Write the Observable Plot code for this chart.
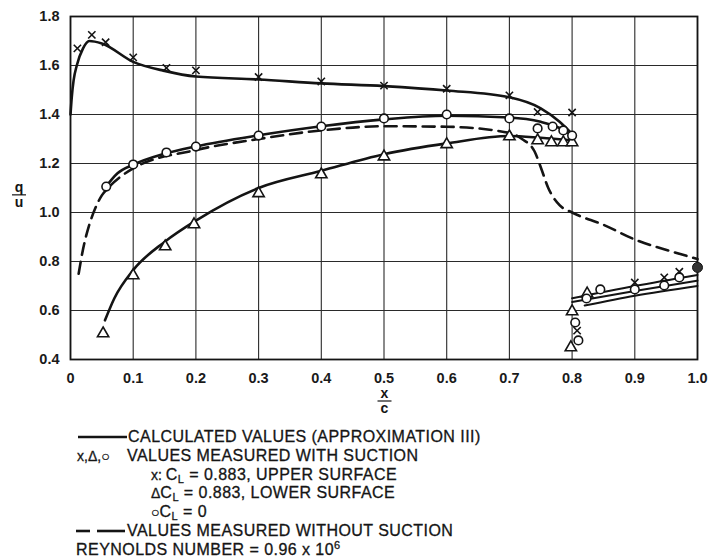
<!DOCTYPE html>
<html>
<head>
<meta charset="utf-8">
<script src="https://cdn.jsdelivr.net/npm/d3@7"></script>
<script src="https://cdn.jsdelivr.net/npm/@observablehq/plot@0.6"></script>
<style>
  body { margin: 0; background: #fff; }
  #wrap { width: 709px; }
  #legend { position: relative; height: 137px; font-family: "Liberation Sans", Arial, sans-serif; font-size: 16px; letter-spacing: 0.45px; color: #151515; -webkit-text-stroke: 0.3px #151515; }
  .row { position: absolute; display: flex; align-items: center; height: 18px; white-space: nowrap; }
  .sym { font-size: 14px; letter-spacing: 0; }
  sub { font-size: 11px; vertical-align: -3px; line-height: 0; }
  sup { font-size: 11px; vertical-align: 6px; line-height: 0; }
  svg.chart text { -webkit-text-stroke: 0.2px #1a1a1a; }
</style>
</head>
<body>
<div id="wrap">
  <div id="chart"></div>
  <div id="legend"></div>
</div>
<script>
// ---- axis ticks ----
const xTicks = [0, 0.1, 0.2, 0.3, 0.4, 0.5, 0.6, 0.7, 0.8, 0.9, 1.0];
const xTickLabels = ["0", "0.1", "0.2", "0.3", "0.4", "0.5", "0.6", "0.7", "0.8", "0.9", "1.0"];
const yTicks = [0.4, 0.6, 0.8, 1.0, 1.2, 1.4, 1.6, 1.8];
const yTickLabels = ["0.4", "0.6", "0.8", "1.0", "1.2", "1.4", "1.6", "1.8"];

// ---- calculated values (approximation III), solid lines: [x/c, q/u] ----
const calcUpper = [[0, 1.40], [0.002, 1.47], [0.005, 1.54], [0.01, 1.60], [0.02, 1.67], [0.03, 1.70],
  [0.05, 1.69], [0.1, 1.615], [0.15, 1.578], [0.2, 1.555], [0.3, 1.543], [0.4, 1.527], [0.5, 1.516],
  [0.6, 1.498], [0.7, 1.47], [0.75, 1.425], [0.78, 1.37], [0.8, 1.32]];
const calcZero = [[0.055, 1.10], [0.075, 1.16], [0.1, 1.195], [0.15, 1.24], [0.2, 1.27], [0.3, 1.315],
  [0.4, 1.352], [0.5, 1.38], [0.6, 1.395], [0.7, 1.388], [0.75, 1.37], [0.78, 1.345], [0.8, 1.315]];
const calcLower = [[0.055, 0.56], [0.07, 0.65], [0.1, 0.765], [0.15, 0.88], [0.2, 0.967], [0.3, 1.10],
  [0.4, 1.17], [0.5, 1.238], [0.6, 1.282], [0.7, 1.312], [0.75, 1.305], [0.8, 1.295]];
const calcTrail1 = [[0.8, 0.65], [0.9, 0.70], [1.0, 0.745]];
const calcTrail2 = [[0.8, 0.635], [0.9, 0.68], [1.0, 0.722]];
const calcTrail3 = [[0.82, 0.62], [0.9, 0.66], [1.0, 0.70]];

// ---- values measured without suction (dashed) ----
const noSuction = [[0.013, 0.75], [0.02, 0.85], [0.03, 0.95], [0.04, 1.02], [0.05, 1.07], [0.06, 1.10],
  [0.1, 1.18], [0.2, 1.255], [0.3, 1.30], [0.4, 1.335], [0.5, 1.352], [0.6, 1.35], [0.7, 1.325],
  [0.72, 1.30], [0.74, 1.25], [0.75, 1.185], [0.762, 1.10], [0.78, 1.03], [0.8, 1.0], [0.85, 0.95],
  [0.9, 0.89], [0.96, 0.84], [1.0, 0.81]];

// ---- values measured with suction ----
const upperSurface = [[0.011, 1.67], [0.034, 1.725], [0.056, 1.695], [0.1, 1.633], [0.153, 1.59],
  [0.2, 1.58], [0.3, 1.553], [0.4, 1.535], [0.5, 1.518], [0.6, 1.505], [0.7, 1.478], [0.745, 1.41],
  [0.8, 1.408], [0.808, 0.518], [0.9, 0.714], [0.947, 0.735], [0.971, 0.758]];
const lowerSurface = [[0.052, 0.506], [0.1, 0.743], [0.151, 0.861], [0.197, 0.951], [0.3, 1.078],
  [0.4, 1.155], [0.5, 1.228], [0.6, 1.278], [0.7, 1.31], [0.745, 1.294], [0.767, 1.286], [0.786, 1.286],
  [0.8, 1.286], [0.8, 0.596], [0.798, 0.449], [0.824, 0.669]];
const zeroLift = [[0.057, 1.106], [0.1, 1.196], [0.153, 1.245], [0.2, 1.269], [0.3, 1.314], [0.4, 1.351],
  [0.5, 1.384], [0.6, 1.4], [0.7, 1.384], [0.745, 1.343], [0.769, 1.351], [0.786, 1.335], [0.8, 1.314],
  [0.805, 0.551], [0.81, 0.478], [0.823, 0.649], [0.845, 0.686], [0.9, 0.686], [0.947, 0.702], [0.971, 0.735]];
const trailingEdge = [[1.0, 0.776]];

// ---- legend texts ----
const legendCalc = "CALCULATED VALUES (APPROXIMATION III)";
const legendSymbols = "x,\u0394,\u25CB";
const legendSuction = "VALUES MEASURED WITH SUCTION";
const legendUpper = " = 0.883, UPPER SURFACE";
const legendLower = " = 0.883, LOWER SURFACE";
const legendZero = " = 0";
const legendNoSuction = "VALUES MEASURED WITHOUT SUCTION";
const legendReynolds = "REYNOLDS NUMBER = 0.96 x 10";

const INK = "#141414";
const lineStyle = {x: d => d[0], y: d => d[1], stroke: INK, strokeWidth: 2.6, curve: "monotone-x"};
const font = "Liberation Sans, Arial, sans-serif";

const chart = Plot.plot({
  className: "chart",
  width: 709,
  height: 420,
  marginLeft: 70,
  marginRight: 12,
  marginTop: 16,
  marginBottom: 61,
  style: {fontFamily: font, fontSize: "14.5px", fontWeight: "bold", color: "#1a1a1a", background: "#fff"},
  x: {domain: [0, 1], ticks: xTicks, tickFormat: (d, i) => xTickLabels[i], tickSize: 0, tickPadding: 13, label: null},
  y: {domain: [0.4, 1.8], ticks: yTicks, tickFormat: (d, i) => yTickLabels[i], tickSize: 0, tickPadding: 11, label: null},
  marks: [
    Plot.gridX(xTicks, {stroke: "#2a2a2a", strokeOpacity: 1, strokeWidth: 1.1}),
    Plot.gridY(yTicks, {stroke: "#2a2a2a", strokeOpacity: 1, strokeWidth: 1.1}),
    Plot.frame({stroke: INK, strokeWidth: 1.8}),
    Plot.line(noSuction, {...lineStyle, strokeDasharray: "12,7"}),
    Plot.line(calcUpper, lineStyle),
    Plot.line(calcZero, lineStyle),
    Plot.line(calcLower, lineStyle),
    Plot.line(calcTrail1, {...lineStyle, strokeWidth: 2}),
    Plot.line(calcTrail2, {...lineStyle, strokeWidth: 2}),
    Plot.line(calcTrail3, {...lineStyle, strokeWidth: 2}),
    Plot.dot(upperSurface, {x: d => d[0], y: d => d[1], symbol: "times", r: 3.4, stroke: INK, strokeWidth: 1.6}),
    Plot.dot(lowerSurface, {x: d => d[0], y: d => d[1], symbol: "triangle", r: 4.2, fill: "white", stroke: INK, strokeWidth: 1.6}),
    Plot.dot(zeroLift, {x: d => d[0], y: d => d[1], symbol: "circle", r: 4.3, fill: "white", stroke: INK, strokeWidth: 1.6}),
    Plot.dot(trailingEdge, {x: d => d[0], y: d => d[1], symbol: "circle", r: 5, fill: "#333", stroke: INK, strokeWidth: 1})
  ]
});
document.getElementById("chart").appendChild(chart);

// fraction axis labels
const svg = d3.select(chart);
const xs = chart.scale("x"), ys = chart.scale("y");
function fraction(cx, cy, top, bottom) {
  const g = svg.append("g").attr("font-family", font).attr("font-size", 14).attr("font-weight", "bold").attr("fill", INK).attr("text-anchor", "middle");
  g.append("text").attr("x", cx).attr("y", cy - 3).text(top);
  g.append("line").attr("x1", cx - 7).attr("x2", cx + 7).attr("y1", cy).attr("y2", cy).attr("stroke", INK).attr("stroke-width", 1.2);
  g.append("text").attr("x", cx).attr("y", cy + 12).text(bottom);
}
fraction(xs.apply(0.5) + 1, 401, "x", "c");
fraction(19, ys.apply(1.07), "q", "u");

// legend
const legend = document.getElementById("legend");
function row(left, top, html) {
  const d = document.createElement("div");
  d.className = "row";
  d.style.left = left + "px";
  d.style.top = top + "px";
  d.innerHTML = html;
  legend.appendChild(d);
}
const cl = 'C<sub>L</sub>';
row(78, 8, '<svg width="50" height="18"><line x1="0" x2="49" y1="9" y2="9" stroke="' + INK + '" stroke-width="2.6"/></svg><span>' + legendCalc + '</span>');
row(77, 27, '<span class="sym" style="width:50px">' + legendSymbols + '</span><span>' + legendSuction + '</span>');
row(151, 46, '<span class="sym">x:&nbsp;</span><span>' + cl + legendUpper + '</span>');
row(151, 64, '<span class="sym">\u0394</span><span>' + cl + legendLower + '</span>');
row(151, 83, '<span class="sym">\u25CB</span><span>' + cl + legendZero + '</span>');
row(76, 102, '<svg width="51" height="18"><line x1="0" x2="14" y1="9" y2="9" stroke="' + INK + '" stroke-width="2.6"/><line x1="21" x2="49" y1="9" y2="9" stroke="' + INK + '" stroke-width="2.6"/></svg><span>' + legendNoSuction + '</span>');
row(76, 121, '<span>' + legendReynolds + '<sup>6</sup></span>');
</script>
</body>
</html>
